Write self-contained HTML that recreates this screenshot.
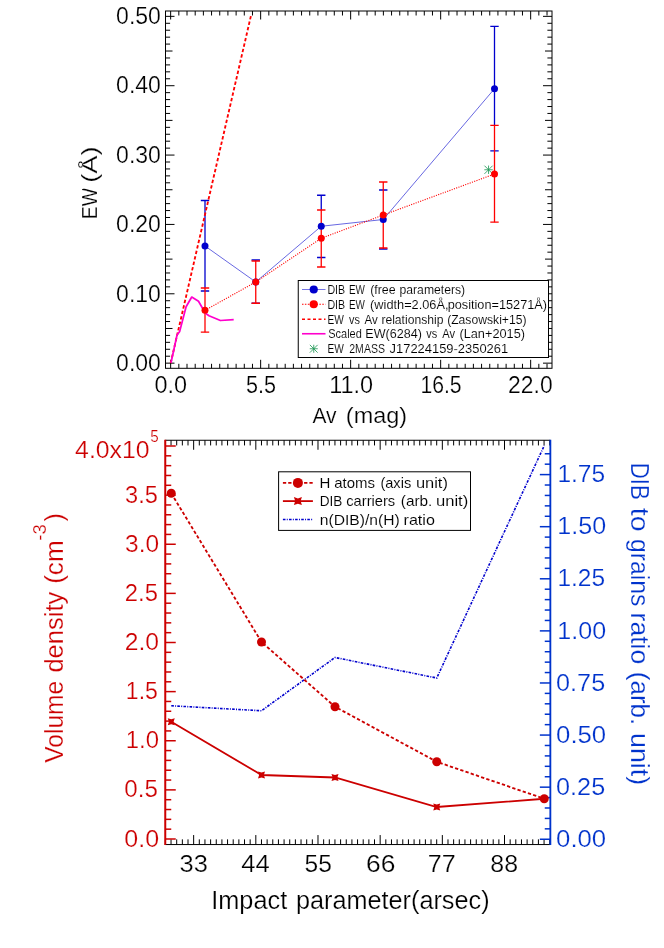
<!DOCTYPE html>
<html><head><meta charset="utf-8"><title>chart</title>
<style>html,body{margin:0;padding:0;background:#fff;}body{width:664px;height:948px;overflow:hidden;font-family:"Liberation Sans",sans-serif;}</style>
</head><body>
<svg width="664" height="948" viewBox="0 0 664 948" style="display:block;will-change:transform">
<g id="top">
<clipPath id="c1"><rect x="165.5" y="11.0" width="386.5" height="357.3"/></clipPath>
<rect x="165.5" y="11.0" width="386.5" height="357.3" fill="none" stroke="#000" stroke-width="1"/>
<line x1="170.65" y1="11.00" x2="170.65" y2="19.50" stroke="#000" stroke-width="1" />
<line x1="170.65" y1="368.30" x2="170.65" y2="359.80" stroke="#000" stroke-width="1" />
<line x1="178.83" y1="11.00" x2="178.83" y2="15.50" stroke="#000" stroke-width="1" />
<line x1="178.83" y1="368.30" x2="178.83" y2="363.80" stroke="#000" stroke-width="1" />
<line x1="187.01" y1="11.00" x2="187.01" y2="15.50" stroke="#000" stroke-width="1" />
<line x1="187.01" y1="368.30" x2="187.01" y2="363.80" stroke="#000" stroke-width="1" />
<line x1="195.20" y1="11.00" x2="195.20" y2="15.50" stroke="#000" stroke-width="1" />
<line x1="195.20" y1="368.30" x2="195.20" y2="363.80" stroke="#000" stroke-width="1" />
<line x1="203.38" y1="11.00" x2="203.38" y2="15.50" stroke="#000" stroke-width="1" />
<line x1="203.38" y1="368.30" x2="203.38" y2="363.80" stroke="#000" stroke-width="1" />
<line x1="211.56" y1="11.00" x2="211.56" y2="15.50" stroke="#000" stroke-width="1" />
<line x1="211.56" y1="368.30" x2="211.56" y2="363.80" stroke="#000" stroke-width="1" />
<line x1="219.74" y1="11.00" x2="219.74" y2="15.50" stroke="#000" stroke-width="1" />
<line x1="219.74" y1="368.30" x2="219.74" y2="363.80" stroke="#000" stroke-width="1" />
<line x1="227.92" y1="11.00" x2="227.92" y2="15.50" stroke="#000" stroke-width="1" />
<line x1="227.92" y1="368.30" x2="227.92" y2="363.80" stroke="#000" stroke-width="1" />
<line x1="236.11" y1="11.00" x2="236.11" y2="15.50" stroke="#000" stroke-width="1" />
<line x1="236.11" y1="368.30" x2="236.11" y2="363.80" stroke="#000" stroke-width="1" />
<line x1="244.29" y1="11.00" x2="244.29" y2="15.50" stroke="#000" stroke-width="1" />
<line x1="244.29" y1="368.30" x2="244.29" y2="363.80" stroke="#000" stroke-width="1" />
<line x1="252.47" y1="11.00" x2="252.47" y2="15.50" stroke="#000" stroke-width="1" />
<line x1="252.47" y1="368.30" x2="252.47" y2="363.80" stroke="#000" stroke-width="1" />
<line x1="260.65" y1="11.00" x2="260.65" y2="19.50" stroke="#000" stroke-width="1" />
<line x1="260.65" y1="368.30" x2="260.65" y2="359.80" stroke="#000" stroke-width="1" />
<line x1="268.83" y1="11.00" x2="268.83" y2="15.50" stroke="#000" stroke-width="1" />
<line x1="268.83" y1="368.30" x2="268.83" y2="363.80" stroke="#000" stroke-width="1" />
<line x1="277.02" y1="11.00" x2="277.02" y2="15.50" stroke="#000" stroke-width="1" />
<line x1="277.02" y1="368.30" x2="277.02" y2="363.80" stroke="#000" stroke-width="1" />
<line x1="285.20" y1="11.00" x2="285.20" y2="15.50" stroke="#000" stroke-width="1" />
<line x1="285.20" y1="368.30" x2="285.20" y2="363.80" stroke="#000" stroke-width="1" />
<line x1="293.38" y1="11.00" x2="293.38" y2="15.50" stroke="#000" stroke-width="1" />
<line x1="293.38" y1="368.30" x2="293.38" y2="363.80" stroke="#000" stroke-width="1" />
<line x1="301.56" y1="11.00" x2="301.56" y2="15.50" stroke="#000" stroke-width="1" />
<line x1="301.56" y1="368.30" x2="301.56" y2="363.80" stroke="#000" stroke-width="1" />
<line x1="309.74" y1="11.00" x2="309.74" y2="15.50" stroke="#000" stroke-width="1" />
<line x1="309.74" y1="368.30" x2="309.74" y2="363.80" stroke="#000" stroke-width="1" />
<line x1="317.93" y1="11.00" x2="317.93" y2="15.50" stroke="#000" stroke-width="1" />
<line x1="317.93" y1="368.30" x2="317.93" y2="363.80" stroke="#000" stroke-width="1" />
<line x1="326.11" y1="11.00" x2="326.11" y2="15.50" stroke="#000" stroke-width="1" />
<line x1="326.11" y1="368.30" x2="326.11" y2="363.80" stroke="#000" stroke-width="1" />
<line x1="334.29" y1="11.00" x2="334.29" y2="15.50" stroke="#000" stroke-width="1" />
<line x1="334.29" y1="368.30" x2="334.29" y2="363.80" stroke="#000" stroke-width="1" />
<line x1="342.47" y1="11.00" x2="342.47" y2="15.50" stroke="#000" stroke-width="1" />
<line x1="342.47" y1="368.30" x2="342.47" y2="363.80" stroke="#000" stroke-width="1" />
<line x1="350.65" y1="11.00" x2="350.65" y2="19.50" stroke="#000" stroke-width="1" />
<line x1="350.65" y1="368.30" x2="350.65" y2="359.80" stroke="#000" stroke-width="1" />
<line x1="358.84" y1="11.00" x2="358.84" y2="15.50" stroke="#000" stroke-width="1" />
<line x1="358.84" y1="368.30" x2="358.84" y2="363.80" stroke="#000" stroke-width="1" />
<line x1="367.02" y1="11.00" x2="367.02" y2="15.50" stroke="#000" stroke-width="1" />
<line x1="367.02" y1="368.30" x2="367.02" y2="363.80" stroke="#000" stroke-width="1" />
<line x1="375.20" y1="11.00" x2="375.20" y2="15.50" stroke="#000" stroke-width="1" />
<line x1="375.20" y1="368.30" x2="375.20" y2="363.80" stroke="#000" stroke-width="1" />
<line x1="383.38" y1="11.00" x2="383.38" y2="15.50" stroke="#000" stroke-width="1" />
<line x1="383.38" y1="368.30" x2="383.38" y2="363.80" stroke="#000" stroke-width="1" />
<line x1="391.56" y1="11.00" x2="391.56" y2="15.50" stroke="#000" stroke-width="1" />
<line x1="391.56" y1="368.30" x2="391.56" y2="363.80" stroke="#000" stroke-width="1" />
<line x1="399.75" y1="11.00" x2="399.75" y2="15.50" stroke="#000" stroke-width="1" />
<line x1="399.75" y1="368.30" x2="399.75" y2="363.80" stroke="#000" stroke-width="1" />
<line x1="407.93" y1="11.00" x2="407.93" y2="15.50" stroke="#000" stroke-width="1" />
<line x1="407.93" y1="368.30" x2="407.93" y2="363.80" stroke="#000" stroke-width="1" />
<line x1="416.11" y1="11.00" x2="416.11" y2="15.50" stroke="#000" stroke-width="1" />
<line x1="416.11" y1="368.30" x2="416.11" y2="363.80" stroke="#000" stroke-width="1" />
<line x1="424.29" y1="11.00" x2="424.29" y2="15.50" stroke="#000" stroke-width="1" />
<line x1="424.29" y1="368.30" x2="424.29" y2="363.80" stroke="#000" stroke-width="1" />
<line x1="432.47" y1="11.00" x2="432.47" y2="15.50" stroke="#000" stroke-width="1" />
<line x1="432.47" y1="368.30" x2="432.47" y2="363.80" stroke="#000" stroke-width="1" />
<line x1="440.66" y1="11.00" x2="440.66" y2="19.50" stroke="#000" stroke-width="1" />
<line x1="440.66" y1="368.30" x2="440.66" y2="359.80" stroke="#000" stroke-width="1" />
<line x1="448.84" y1="11.00" x2="448.84" y2="15.50" stroke="#000" stroke-width="1" />
<line x1="448.84" y1="368.30" x2="448.84" y2="363.80" stroke="#000" stroke-width="1" />
<line x1="457.02" y1="11.00" x2="457.02" y2="15.50" stroke="#000" stroke-width="1" />
<line x1="457.02" y1="368.30" x2="457.02" y2="363.80" stroke="#000" stroke-width="1" />
<line x1="465.20" y1="11.00" x2="465.20" y2="15.50" stroke="#000" stroke-width="1" />
<line x1="465.20" y1="368.30" x2="465.20" y2="363.80" stroke="#000" stroke-width="1" />
<line x1="473.38" y1="11.00" x2="473.38" y2="15.50" stroke="#000" stroke-width="1" />
<line x1="473.38" y1="368.30" x2="473.38" y2="363.80" stroke="#000" stroke-width="1" />
<line x1="481.57" y1="11.00" x2="481.57" y2="15.50" stroke="#000" stroke-width="1" />
<line x1="481.57" y1="368.30" x2="481.57" y2="363.80" stroke="#000" stroke-width="1" />
<line x1="489.75" y1="11.00" x2="489.75" y2="15.50" stroke="#000" stroke-width="1" />
<line x1="489.75" y1="368.30" x2="489.75" y2="363.80" stroke="#000" stroke-width="1" />
<line x1="497.93" y1="11.00" x2="497.93" y2="15.50" stroke="#000" stroke-width="1" />
<line x1="497.93" y1="368.30" x2="497.93" y2="363.80" stroke="#000" stroke-width="1" />
<line x1="506.11" y1="11.00" x2="506.11" y2="15.50" stroke="#000" stroke-width="1" />
<line x1="506.11" y1="368.30" x2="506.11" y2="363.80" stroke="#000" stroke-width="1" />
<line x1="514.29" y1="11.00" x2="514.29" y2="15.50" stroke="#000" stroke-width="1" />
<line x1="514.29" y1="368.30" x2="514.29" y2="363.80" stroke="#000" stroke-width="1" />
<line x1="522.48" y1="11.00" x2="522.48" y2="15.50" stroke="#000" stroke-width="1" />
<line x1="522.48" y1="368.30" x2="522.48" y2="363.80" stroke="#000" stroke-width="1" />
<line x1="530.66" y1="11.00" x2="530.66" y2="19.50" stroke="#000" stroke-width="1" />
<line x1="530.66" y1="368.30" x2="530.66" y2="359.80" stroke="#000" stroke-width="1" />
<line x1="538.84" y1="11.00" x2="538.84" y2="15.50" stroke="#000" stroke-width="1" />
<line x1="538.84" y1="368.30" x2="538.84" y2="363.80" stroke="#000" stroke-width="1" />
<line x1="547.02" y1="11.00" x2="547.02" y2="15.50" stroke="#000" stroke-width="1" />
<line x1="547.02" y1="368.30" x2="547.02" y2="363.80" stroke="#000" stroke-width="1" />
<line x1="165.50" y1="363.15" x2="174.50" y2="363.15" stroke="#000" stroke-width="1" />
<line x1="552.00" y1="363.15" x2="543.00" y2="363.15" stroke="#000" stroke-width="1" />
<line x1="165.50" y1="356.21" x2="170.10" y2="356.21" stroke="#000" stroke-width="1" />
<line x1="552.00" y1="356.21" x2="547.40" y2="356.21" stroke="#000" stroke-width="1" />
<line x1="165.50" y1="349.28" x2="170.10" y2="349.28" stroke="#000" stroke-width="1" />
<line x1="552.00" y1="349.28" x2="547.40" y2="349.28" stroke="#000" stroke-width="1" />
<line x1="165.50" y1="342.34" x2="170.10" y2="342.34" stroke="#000" stroke-width="1" />
<line x1="552.00" y1="342.34" x2="547.40" y2="342.34" stroke="#000" stroke-width="1" />
<line x1="165.50" y1="335.41" x2="170.10" y2="335.41" stroke="#000" stroke-width="1" />
<line x1="552.00" y1="335.41" x2="547.40" y2="335.41" stroke="#000" stroke-width="1" />
<line x1="165.50" y1="328.47" x2="172.50" y2="328.47" stroke="#000" stroke-width="1" />
<line x1="552.00" y1="328.47" x2="545.00" y2="328.47" stroke="#000" stroke-width="1" />
<line x1="165.50" y1="321.53" x2="170.10" y2="321.53" stroke="#000" stroke-width="1" />
<line x1="552.00" y1="321.53" x2="547.40" y2="321.53" stroke="#000" stroke-width="1" />
<line x1="165.50" y1="314.60" x2="170.10" y2="314.60" stroke="#000" stroke-width="1" />
<line x1="552.00" y1="314.60" x2="547.40" y2="314.60" stroke="#000" stroke-width="1" />
<line x1="165.50" y1="307.66" x2="170.10" y2="307.66" stroke="#000" stroke-width="1" />
<line x1="552.00" y1="307.66" x2="547.40" y2="307.66" stroke="#000" stroke-width="1" />
<line x1="165.50" y1="300.73" x2="170.10" y2="300.73" stroke="#000" stroke-width="1" />
<line x1="552.00" y1="300.73" x2="547.40" y2="300.73" stroke="#000" stroke-width="1" />
<line x1="165.50" y1="293.79" x2="174.50" y2="293.79" stroke="#000" stroke-width="1" />
<line x1="552.00" y1="293.79" x2="543.00" y2="293.79" stroke="#000" stroke-width="1" />
<line x1="165.50" y1="286.85" x2="170.10" y2="286.85" stroke="#000" stroke-width="1" />
<line x1="552.00" y1="286.85" x2="547.40" y2="286.85" stroke="#000" stroke-width="1" />
<line x1="165.50" y1="279.92" x2="170.10" y2="279.92" stroke="#000" stroke-width="1" />
<line x1="552.00" y1="279.92" x2="547.40" y2="279.92" stroke="#000" stroke-width="1" />
<line x1="165.50" y1="272.98" x2="170.10" y2="272.98" stroke="#000" stroke-width="1" />
<line x1="552.00" y1="272.98" x2="547.40" y2="272.98" stroke="#000" stroke-width="1" />
<line x1="165.50" y1="266.05" x2="170.10" y2="266.05" stroke="#000" stroke-width="1" />
<line x1="552.00" y1="266.05" x2="547.40" y2="266.05" stroke="#000" stroke-width="1" />
<line x1="165.50" y1="259.11" x2="172.50" y2="259.11" stroke="#000" stroke-width="1" />
<line x1="552.00" y1="259.11" x2="545.00" y2="259.11" stroke="#000" stroke-width="1" />
<line x1="165.50" y1="252.17" x2="170.10" y2="252.17" stroke="#000" stroke-width="1" />
<line x1="552.00" y1="252.17" x2="547.40" y2="252.17" stroke="#000" stroke-width="1" />
<line x1="165.50" y1="245.24" x2="170.10" y2="245.24" stroke="#000" stroke-width="1" />
<line x1="552.00" y1="245.24" x2="547.40" y2="245.24" stroke="#000" stroke-width="1" />
<line x1="165.50" y1="238.30" x2="170.10" y2="238.30" stroke="#000" stroke-width="1" />
<line x1="552.00" y1="238.30" x2="547.40" y2="238.30" stroke="#000" stroke-width="1" />
<line x1="165.50" y1="231.37" x2="170.10" y2="231.37" stroke="#000" stroke-width="1" />
<line x1="552.00" y1="231.37" x2="547.40" y2="231.37" stroke="#000" stroke-width="1" />
<line x1="165.50" y1="224.43" x2="174.50" y2="224.43" stroke="#000" stroke-width="1" />
<line x1="552.00" y1="224.43" x2="543.00" y2="224.43" stroke="#000" stroke-width="1" />
<line x1="165.50" y1="217.49" x2="170.10" y2="217.49" stroke="#000" stroke-width="1" />
<line x1="552.00" y1="217.49" x2="547.40" y2="217.49" stroke="#000" stroke-width="1" />
<line x1="165.50" y1="210.56" x2="170.10" y2="210.56" stroke="#000" stroke-width="1" />
<line x1="552.00" y1="210.56" x2="547.40" y2="210.56" stroke="#000" stroke-width="1" />
<line x1="165.50" y1="203.62" x2="170.10" y2="203.62" stroke="#000" stroke-width="1" />
<line x1="552.00" y1="203.62" x2="547.40" y2="203.62" stroke="#000" stroke-width="1" />
<line x1="165.50" y1="196.69" x2="170.10" y2="196.69" stroke="#000" stroke-width="1" />
<line x1="552.00" y1="196.69" x2="547.40" y2="196.69" stroke="#000" stroke-width="1" />
<line x1="165.50" y1="189.75" x2="172.50" y2="189.75" stroke="#000" stroke-width="1" />
<line x1="552.00" y1="189.75" x2="545.00" y2="189.75" stroke="#000" stroke-width="1" />
<line x1="165.50" y1="182.81" x2="170.10" y2="182.81" stroke="#000" stroke-width="1" />
<line x1="552.00" y1="182.81" x2="547.40" y2="182.81" stroke="#000" stroke-width="1" />
<line x1="165.50" y1="175.88" x2="170.10" y2="175.88" stroke="#000" stroke-width="1" />
<line x1="552.00" y1="175.88" x2="547.40" y2="175.88" stroke="#000" stroke-width="1" />
<line x1="165.50" y1="168.94" x2="170.10" y2="168.94" stroke="#000" stroke-width="1" />
<line x1="552.00" y1="168.94" x2="547.40" y2="168.94" stroke="#000" stroke-width="1" />
<line x1="165.50" y1="162.01" x2="170.10" y2="162.01" stroke="#000" stroke-width="1" />
<line x1="552.00" y1="162.01" x2="547.40" y2="162.01" stroke="#000" stroke-width="1" />
<line x1="165.50" y1="155.07" x2="174.50" y2="155.07" stroke="#000" stroke-width="1" />
<line x1="552.00" y1="155.07" x2="543.00" y2="155.07" stroke="#000" stroke-width="1" />
<line x1="165.50" y1="148.13" x2="170.10" y2="148.13" stroke="#000" stroke-width="1" />
<line x1="552.00" y1="148.13" x2="547.40" y2="148.13" stroke="#000" stroke-width="1" />
<line x1="165.50" y1="141.20" x2="170.10" y2="141.20" stroke="#000" stroke-width="1" />
<line x1="552.00" y1="141.20" x2="547.40" y2="141.20" stroke="#000" stroke-width="1" />
<line x1="165.50" y1="134.26" x2="170.10" y2="134.26" stroke="#000" stroke-width="1" />
<line x1="552.00" y1="134.26" x2="547.40" y2="134.26" stroke="#000" stroke-width="1" />
<line x1="165.50" y1="127.33" x2="170.10" y2="127.33" stroke="#000" stroke-width="1" />
<line x1="552.00" y1="127.33" x2="547.40" y2="127.33" stroke="#000" stroke-width="1" />
<line x1="165.50" y1="120.39" x2="172.50" y2="120.39" stroke="#000" stroke-width="1" />
<line x1="552.00" y1="120.39" x2="545.00" y2="120.39" stroke="#000" stroke-width="1" />
<line x1="165.50" y1="113.45" x2="170.10" y2="113.45" stroke="#000" stroke-width="1" />
<line x1="552.00" y1="113.45" x2="547.40" y2="113.45" stroke="#000" stroke-width="1" />
<line x1="165.50" y1="106.52" x2="170.10" y2="106.52" stroke="#000" stroke-width="1" />
<line x1="552.00" y1="106.52" x2="547.40" y2="106.52" stroke="#000" stroke-width="1" />
<line x1="165.50" y1="99.58" x2="170.10" y2="99.58" stroke="#000" stroke-width="1" />
<line x1="552.00" y1="99.58" x2="547.40" y2="99.58" stroke="#000" stroke-width="1" />
<line x1="165.50" y1="92.65" x2="170.10" y2="92.65" stroke="#000" stroke-width="1" />
<line x1="552.00" y1="92.65" x2="547.40" y2="92.65" stroke="#000" stroke-width="1" />
<line x1="165.50" y1="85.71" x2="174.50" y2="85.71" stroke="#000" stroke-width="1" />
<line x1="552.00" y1="85.71" x2="543.00" y2="85.71" stroke="#000" stroke-width="1" />
<line x1="165.50" y1="78.77" x2="170.10" y2="78.77" stroke="#000" stroke-width="1" />
<line x1="552.00" y1="78.77" x2="547.40" y2="78.77" stroke="#000" stroke-width="1" />
<line x1="165.50" y1="71.84" x2="170.10" y2="71.84" stroke="#000" stroke-width="1" />
<line x1="552.00" y1="71.84" x2="547.40" y2="71.84" stroke="#000" stroke-width="1" />
<line x1="165.50" y1="64.90" x2="170.10" y2="64.90" stroke="#000" stroke-width="1" />
<line x1="552.00" y1="64.90" x2="547.40" y2="64.90" stroke="#000" stroke-width="1" />
<line x1="165.50" y1="57.97" x2="170.10" y2="57.97" stroke="#000" stroke-width="1" />
<line x1="552.00" y1="57.97" x2="547.40" y2="57.97" stroke="#000" stroke-width="1" />
<line x1="165.50" y1="51.03" x2="172.50" y2="51.03" stroke="#000" stroke-width="1" />
<line x1="552.00" y1="51.03" x2="545.00" y2="51.03" stroke="#000" stroke-width="1" />
<line x1="165.50" y1="44.09" x2="170.10" y2="44.09" stroke="#000" stroke-width="1" />
<line x1="552.00" y1="44.09" x2="547.40" y2="44.09" stroke="#000" stroke-width="1" />
<line x1="165.50" y1="37.16" x2="170.10" y2="37.16" stroke="#000" stroke-width="1" />
<line x1="552.00" y1="37.16" x2="547.40" y2="37.16" stroke="#000" stroke-width="1" />
<line x1="165.50" y1="30.22" x2="170.10" y2="30.22" stroke="#000" stroke-width="1" />
<line x1="552.00" y1="30.22" x2="547.40" y2="30.22" stroke="#000" stroke-width="1" />
<line x1="165.50" y1="23.29" x2="170.10" y2="23.29" stroke="#000" stroke-width="1" />
<line x1="552.00" y1="23.29" x2="547.40" y2="23.29" stroke="#000" stroke-width="1" />
<line x1="165.50" y1="16.35" x2="174.50" y2="16.35" stroke="#000" stroke-width="1" />
<line x1="552.00" y1="16.35" x2="543.00" y2="16.35" stroke="#000" stroke-width="1" />
<g clip-path="url(#c1)">
<line x1="205.00" y1="288.00" x2="205.00" y2="200.50" stroke="#0000cd" stroke-width="1.3" />
<line x1="200.80" y1="291.00" x2="209.20" y2="291.00" stroke="#0000cd" stroke-width="1.3" />
<line x1="200.80" y1="200.50" x2="209.20" y2="200.50" stroke="#0000cd" stroke-width="1.3" />
<line x1="255.75" y1="261.00" x2="255.75" y2="260.00" stroke="#0000cd" stroke-width="1.3" />
<line x1="251.55" y1="303.25" x2="259.95" y2="303.25" stroke="#0000cd" stroke-width="1.3" />
<line x1="251.55" y1="260.00" x2="259.95" y2="260.00" stroke="#0000cd" stroke-width="1.3" />
<line x1="321.25" y1="210.00" x2="321.25" y2="195.25" stroke="#0000cd" stroke-width="1.3" />
<line x1="317.05" y1="257.50" x2="325.45" y2="257.50" stroke="#0000cd" stroke-width="1.3" />
<line x1="317.05" y1="195.25" x2="325.45" y2="195.25" stroke="#0000cd" stroke-width="1.3" />
<line x1="383.25" y1="249.00" x2="383.25" y2="248.00" stroke="#0000cd" stroke-width="1.3" />
<line x1="379.05" y1="249.00" x2="387.45" y2="249.00" stroke="#0000cd" stroke-width="1.3" />
<line x1="379.05" y1="190.00" x2="387.45" y2="190.00" stroke="#0000cd" stroke-width="1.3" />
<line x1="494.50" y1="125.40" x2="494.50" y2="26.40" stroke="#0000cd" stroke-width="1.3" />
<line x1="490.30" y1="150.90" x2="498.70" y2="150.90" stroke="#0000cd" stroke-width="1.3" />
<line x1="490.30" y1="26.40" x2="498.70" y2="26.40" stroke="#0000cd" stroke-width="1.3" />
<line x1="205.00" y1="332.20" x2="205.00" y2="288.00" stroke="#ff0000" stroke-width="1.3" />
<line x1="200.80" y1="332.20" x2="209.20" y2="332.20" stroke="#ff0000" stroke-width="1.3" />
<line x1="200.80" y1="288.00" x2="209.20" y2="288.00" stroke="#ff0000" stroke-width="1.3" />
<line x1="255.75" y1="303.25" x2="255.75" y2="261.00" stroke="#ff0000" stroke-width="1.3" />
<line x1="251.55" y1="303.25" x2="259.95" y2="303.25" stroke="#ff0000" stroke-width="1.3" />
<line x1="251.55" y1="261.00" x2="259.95" y2="261.00" stroke="#ff0000" stroke-width="1.3" />
<line x1="321.25" y1="267.00" x2="321.25" y2="210.00" stroke="#ff0000" stroke-width="1.3" />
<line x1="317.05" y1="267.00" x2="325.45" y2="267.00" stroke="#ff0000" stroke-width="1.3" />
<line x1="317.05" y1="210.00" x2="325.45" y2="210.00" stroke="#ff0000" stroke-width="1.3" />
<line x1="383.25" y1="248.00" x2="383.25" y2="182.00" stroke="#ff0000" stroke-width="1.3" />
<line x1="379.05" y1="248.00" x2="387.45" y2="248.00" stroke="#ff0000" stroke-width="1.3" />
<line x1="379.05" y1="182.00" x2="387.45" y2="182.00" stroke="#ff0000" stroke-width="1.3" />
<line x1="494.50" y1="222.20" x2="494.50" y2="125.40" stroke="#ff0000" stroke-width="1.3" />
<line x1="490.30" y1="222.20" x2="498.70" y2="222.20" stroke="#ff0000" stroke-width="1.3" />
<line x1="490.30" y1="125.40" x2="498.70" y2="125.40" stroke="#ff0000" stroke-width="1.3" />
<line x1="170.65" y1="363.15" x2="250.90" y2="16.00" stroke="#ff0000" stroke-width="1.85" stroke-dasharray="3.4 2.2"/>
<polyline fill="none" stroke="#ff00cc" stroke-width="1.75" stroke-linejoin="round" points="171.0,362.7 177.05,335.0 179.7,331.4 186.1,306.7 191.75,297.05 198.5,301.3 205.4,313.3 209.0,315.7 220.4,320.5 233.7,319.6"/>
<polyline fill="none" stroke="#0000cd" stroke-width="0.6" points="205.00,246.00 255.75,282.00 321.25,226.25 383.25,219.50 494.50,88.70"/>
<circle cx="205.00" cy="246.00" r="3.5" fill="#0000cd"/>
<circle cx="255.75" cy="282.00" r="3.5" fill="#0000cd"/>
<circle cx="321.25" cy="226.25" r="3.5" fill="#0000cd"/>
<circle cx="383.25" cy="219.50" r="3.5" fill="#0000cd"/>
<circle cx="494.50" cy="88.70" r="3.5" fill="#0000cd"/>
<line x1="484.35" y1="169.76" x2="492.75" y2="169.76" stroke="#249a58" stroke-width="0.85" />
<line x1="484.45" y1="165.66" x2="492.65" y2="173.86" stroke="#249a58" stroke-width="0.85" />
<line x1="488.55" y1="165.56" x2="488.55" y2="173.96" stroke="#249a58" stroke-width="0.85" />
<line x1="492.65" y1="165.66" x2="484.45" y2="173.86" stroke="#249a58" stroke-width="0.85" />
<polyline fill="none" stroke="#ff0000" stroke-width="1.1" stroke-dasharray="1.1 1.3" points="205.00,310.30 255.75,282.00 321.25,238.25 383.25,215.00 494.50,174.00"/>
<circle cx="205.00" cy="310.30" r="3.5" fill="#ff0000"/>
<circle cx="255.75" cy="282.00" r="3.5" fill="#ff0000"/>
<circle cx="321.25" cy="238.25" r="3.5" fill="#ff0000"/>
<circle cx="383.25" cy="215.00" r="3.5" fill="#ff0000"/>
<circle cx="494.50" cy="174.00" r="3.5" fill="#ff0000"/>
</g>
<g font-family="Liberation Sans, sans-serif">
<text x="116.10" y="370.90" font-size="23" fill="#000" stroke="#fff" stroke-width="0.22" text-anchor="start" textLength="44.80" lengthAdjust="spacingAndGlyphs" >0.00</text>
<text x="116.10" y="301.54" font-size="23" fill="#000" stroke="#fff" stroke-width="0.22" text-anchor="start" textLength="44.80" lengthAdjust="spacingAndGlyphs" >0.10</text>
<text x="116.10" y="232.18" font-size="23" fill="#000" stroke="#fff" stroke-width="0.22" text-anchor="start" textLength="44.80" lengthAdjust="spacingAndGlyphs" >0.20</text>
<text x="116.10" y="162.82" font-size="23" fill="#000" stroke="#fff" stroke-width="0.22" text-anchor="start" textLength="44.80" lengthAdjust="spacingAndGlyphs" >0.30</text>
<text x="116.10" y="93.46" font-size="23" fill="#000" stroke="#fff" stroke-width="0.22" text-anchor="start" textLength="44.80" lengthAdjust="spacingAndGlyphs" >0.40</text>
<text x="116.10" y="24.10" font-size="23" fill="#000" stroke="#fff" stroke-width="0.22" text-anchor="start" textLength="44.80" lengthAdjust="spacingAndGlyphs" >0.50</text>
<text x="154.58" y="393.40" font-size="23" fill="#000" stroke="#fff" stroke-width="0.22" text-anchor="start" textLength="32.58" lengthAdjust="spacingAndGlyphs" >0.0</text>
<text x="245.89" y="393.40" font-size="23" fill="#000" stroke="#fff" stroke-width="0.22" text-anchor="start" textLength="30.02" lengthAdjust="spacingAndGlyphs" >5.5</text>
<text x="329.18" y="393.40" font-size="23" fill="#000" stroke="#fff" stroke-width="0.22" text-anchor="start" textLength="43.90" lengthAdjust="spacingAndGlyphs" >11.0</text>
<text x="420.39" y="393.40" font-size="23" fill="#000" stroke="#fff" stroke-width="0.22" text-anchor="start" textLength="41.25" lengthAdjust="spacingAndGlyphs" >16.5</text>
<text x="508.10" y="393.40" font-size="23" fill="#000" stroke="#fff" stroke-width="0.22" text-anchor="start" textLength="44.55" lengthAdjust="spacingAndGlyphs" >22.0</text>
<text x="312.46" y="422.50" font-size="22.6" fill="#000" stroke="#fff" stroke-width="0.22" text-anchor="start" textLength="24.11" lengthAdjust="spacingAndGlyphs" >Av</text>
<text x="345.85" y="422.50" font-size="22.6" fill="#000" stroke="#fff" stroke-width="0.22" text-anchor="start" textLength="61.21" lengthAdjust="spacingAndGlyphs" >(mag)</text>
<text transform="translate(96.90,219.19) rotate(-90)" font-size="22.8" fill="#000" stroke="#fff" stroke-width="0.22" textLength="31.26" lengthAdjust="spacingAndGlyphs">EW</text>
<text transform="translate(96.90,182.75) rotate(-90)" font-size="22.8" fill="#000" stroke="#fff" stroke-width="0.22" textLength="36.44" lengthAdjust="spacingAndGlyphs">(&#197;)</text>
<rect x="298.25" y="280.5" width="250.25" height="77.0" fill="#fff" stroke="#000" stroke-width="1"/>
<line x1="302.00" y1="289.50" x2="325.50" y2="289.50" stroke="#0000cd" stroke-width="0.55" />
<circle cx="313.75" cy="289.5" r="4.1" fill="#0000cd"/>
<line x1="302.00" y1="304.25" x2="325.50" y2="304.25" stroke="#ff0000" stroke-width="1" stroke-dasharray="1.5 1.4"/>
<circle cx="313.75" cy="304.25" r="4.1" fill="#ff0000"/>
<line x1="302.00" y1="319.25" x2="325.50" y2="319.25" stroke="#ff0000" stroke-width="1.65" stroke-dasharray="3 2.5"/>
<line x1="302.00" y1="333.75" x2="325.50" y2="333.75" stroke="#ff00cc" stroke-width="1.6" />
<line x1="309.75" y1="348.75" x2="317.75" y2="348.75" stroke="#249a58" stroke-width="0.85" />
<line x1="309.85" y1="344.85" x2="317.65" y2="352.65" stroke="#249a58" stroke-width="0.85" />
<line x1="313.75" y1="344.75" x2="313.75" y2="352.75" stroke="#249a58" stroke-width="0.85" />
<line x1="317.65" y1="344.85" x2="309.85" y2="352.65" stroke="#249a58" stroke-width="0.85" />
<text x="327.43" y="293.80" font-size="12.6" fill="#000" stroke="#fff" stroke-width="0.1" text-anchor="start" textLength="17.73" lengthAdjust="spacingAndGlyphs" >DIB</text>
<text x="348.99" y="293.80" font-size="12.6" fill="#000" stroke="#fff" stroke-width="0.1" text-anchor="start" textLength="15.95" lengthAdjust="spacingAndGlyphs" >EW</text>
<text x="370.13" y="293.80" font-size="12.6" fill="#000" stroke="#fff" stroke-width="0.1" text-anchor="start" textLength="25.42" lengthAdjust="spacingAndGlyphs" >(free</text>
<text x="399.52" y="293.80" font-size="12.6" fill="#000" stroke="#fff" stroke-width="0.1" text-anchor="start" textLength="65.64" lengthAdjust="spacingAndGlyphs" >parameters)</text>
<text x="327.43" y="308.55" font-size="12.6" fill="#000" stroke="#fff" stroke-width="0.1" text-anchor="start" textLength="17.73" lengthAdjust="spacingAndGlyphs" >DIB</text>
<text x="348.99" y="308.55" font-size="12.6" fill="#000" stroke="#fff" stroke-width="0.1" text-anchor="start" textLength="15.95" lengthAdjust="spacingAndGlyphs" >EW</text>
<text x="370.11" y="308.55" font-size="12.6" fill="#000" stroke="#fff" stroke-width="0.1" text-anchor="start" textLength="78.34" lengthAdjust="spacingAndGlyphs" >(width=2.06&#197;,</text>
<text x="447.68" y="308.55" font-size="12.6" fill="#000" stroke="#fff" stroke-width="0.1" text-anchor="start" textLength="99.36" lengthAdjust="spacingAndGlyphs" >position=15271&#197;)</text>
<text x="327.47" y="323.55" font-size="12.6" fill="#000" stroke="#fff" stroke-width="0.1" text-anchor="start" textLength="16.37" lengthAdjust="spacingAndGlyphs" >EW</text>
<text x="349.06" y="323.55" font-size="12.6" fill="#000" stroke="#fff" stroke-width="0.1" text-anchor="start" textLength="10.93" lengthAdjust="spacingAndGlyphs" >vs</text>
<text x="364.48" y="323.55" font-size="12.6" fill="#000" stroke="#fff" stroke-width="0.1" text-anchor="start" textLength="13.26" lengthAdjust="spacingAndGlyphs" >Av</text>
<text x="381.39" y="323.55" font-size="12.6" fill="#000" stroke="#fff" stroke-width="0.1" text-anchor="start" textLength="62.01" lengthAdjust="spacingAndGlyphs" >relationship</text>
<text x="447.15" y="323.55" font-size="12.6" fill="#000" stroke="#fff" stroke-width="0.1" text-anchor="start" textLength="79.36" lengthAdjust="spacingAndGlyphs" >(Zasowski+15)</text>
<text x="328.30" y="338.05" font-size="12.6" fill="#000" stroke="#fff" stroke-width="0.1" text-anchor="start" textLength="33.50" lengthAdjust="spacingAndGlyphs" >Scaled</text>
<text x="365.37" y="338.05" font-size="12.6" fill="#000" stroke="#fff" stroke-width="0.1" text-anchor="start" textLength="56.61" lengthAdjust="spacingAndGlyphs" >EW(6284)</text>
<text x="426.36" y="338.05" font-size="12.6" fill="#000" stroke="#fff" stroke-width="0.1" text-anchor="start" textLength="10.93" lengthAdjust="spacingAndGlyphs" >vs</text>
<text x="442.18" y="338.05" font-size="12.6" fill="#000" stroke="#fff" stroke-width="0.1" text-anchor="start" textLength="12.86" lengthAdjust="spacingAndGlyphs" >Av</text>
<text x="459.41" y="338.05" font-size="12.6" fill="#000" stroke="#fff" stroke-width="0.1" text-anchor="start" textLength="65.63" lengthAdjust="spacingAndGlyphs" >(Lan+2015)</text>
<text x="327.47" y="353.05" font-size="12.6" fill="#000" stroke="#fff" stroke-width="0.1" text-anchor="start" textLength="16.37" lengthAdjust="spacingAndGlyphs" >EW</text>
<text x="349.27" y="353.05" font-size="12.6" fill="#000" stroke="#fff" stroke-width="0.1" text-anchor="start" textLength="35.71" lengthAdjust="spacingAndGlyphs" >2MASS</text>
<text x="389.60" y="353.05" font-size="12.6" fill="#000" stroke="#fff" stroke-width="0.1" text-anchor="start" textLength="118.53" lengthAdjust="spacingAndGlyphs" >J17224159-2350261</text>
</g>
</g>
<g id="bottom">
<clipPath id="c2"><rect x="165.25" y="440.25" width="385.1" height="404.29999999999995"/></clipPath>
<line x1="165.25" y1="440.25" x2="550.35" y2="440.25" stroke="#000" stroke-width="1" />
<line x1="165.25" y1="844.55" x2="550.35" y2="844.55" stroke="#000" stroke-width="1" />
<line x1="165.39" y1="440.25" x2="165.39" y2="445.45" stroke="#000" stroke-width="1" />
<line x1="165.39" y1="844.55" x2="165.39" y2="839.35" stroke="#000" stroke-width="1" />
<line x1="171.04" y1="440.25" x2="171.04" y2="445.45" stroke="#000" stroke-width="1" />
<line x1="171.04" y1="844.55" x2="171.04" y2="839.35" stroke="#000" stroke-width="1" />
<line x1="176.69" y1="440.25" x2="176.69" y2="445.45" stroke="#000" stroke-width="1" />
<line x1="176.69" y1="844.55" x2="176.69" y2="839.35" stroke="#000" stroke-width="1" />
<line x1="182.35" y1="440.25" x2="182.35" y2="445.45" stroke="#000" stroke-width="1" />
<line x1="182.35" y1="844.55" x2="182.35" y2="839.35" stroke="#000" stroke-width="1" />
<line x1="188.00" y1="440.25" x2="188.00" y2="445.45" stroke="#000" stroke-width="1" />
<line x1="188.00" y1="844.55" x2="188.00" y2="839.35" stroke="#000" stroke-width="1" />
<line x1="193.65" y1="440.25" x2="193.65" y2="449.75" stroke="#000" stroke-width="1" />
<line x1="193.65" y1="844.55" x2="193.65" y2="835.05" stroke="#000" stroke-width="1" />
<line x1="199.30" y1="440.25" x2="199.30" y2="445.45" stroke="#000" stroke-width="1" />
<line x1="199.30" y1="844.55" x2="199.30" y2="839.35" stroke="#000" stroke-width="1" />
<line x1="204.95" y1="440.25" x2="204.95" y2="445.45" stroke="#000" stroke-width="1" />
<line x1="204.95" y1="844.55" x2="204.95" y2="839.35" stroke="#000" stroke-width="1" />
<line x1="210.61" y1="440.25" x2="210.61" y2="445.45" stroke="#000" stroke-width="1" />
<line x1="210.61" y1="844.55" x2="210.61" y2="839.35" stroke="#000" stroke-width="1" />
<line x1="216.26" y1="440.25" x2="216.26" y2="445.45" stroke="#000" stroke-width="1" />
<line x1="216.26" y1="844.55" x2="216.26" y2="839.35" stroke="#000" stroke-width="1" />
<line x1="221.91" y1="440.25" x2="221.91" y2="445.45" stroke="#000" stroke-width="1" />
<line x1="221.91" y1="844.55" x2="221.91" y2="839.35" stroke="#000" stroke-width="1" />
<line x1="227.56" y1="440.25" x2="227.56" y2="445.45" stroke="#000" stroke-width="1" />
<line x1="227.56" y1="844.55" x2="227.56" y2="839.35" stroke="#000" stroke-width="1" />
<line x1="233.21" y1="440.25" x2="233.21" y2="445.45" stroke="#000" stroke-width="1" />
<line x1="233.21" y1="844.55" x2="233.21" y2="839.35" stroke="#000" stroke-width="1" />
<line x1="238.87" y1="440.25" x2="238.87" y2="445.45" stroke="#000" stroke-width="1" />
<line x1="238.87" y1="844.55" x2="238.87" y2="839.35" stroke="#000" stroke-width="1" />
<line x1="244.52" y1="440.25" x2="244.52" y2="445.45" stroke="#000" stroke-width="1" />
<line x1="244.52" y1="844.55" x2="244.52" y2="839.35" stroke="#000" stroke-width="1" />
<line x1="250.17" y1="440.25" x2="250.17" y2="445.45" stroke="#000" stroke-width="1" />
<line x1="250.17" y1="844.55" x2="250.17" y2="839.35" stroke="#000" stroke-width="1" />
<line x1="255.82" y1="440.25" x2="255.82" y2="449.75" stroke="#000" stroke-width="1" />
<line x1="255.82" y1="844.55" x2="255.82" y2="835.05" stroke="#000" stroke-width="1" />
<line x1="261.47" y1="440.25" x2="261.47" y2="445.45" stroke="#000" stroke-width="1" />
<line x1="261.47" y1="844.55" x2="261.47" y2="839.35" stroke="#000" stroke-width="1" />
<line x1="267.13" y1="440.25" x2="267.13" y2="445.45" stroke="#000" stroke-width="1" />
<line x1="267.13" y1="844.55" x2="267.13" y2="839.35" stroke="#000" stroke-width="1" />
<line x1="272.78" y1="440.25" x2="272.78" y2="445.45" stroke="#000" stroke-width="1" />
<line x1="272.78" y1="844.55" x2="272.78" y2="839.35" stroke="#000" stroke-width="1" />
<line x1="278.43" y1="440.25" x2="278.43" y2="445.45" stroke="#000" stroke-width="1" />
<line x1="278.43" y1="844.55" x2="278.43" y2="839.35" stroke="#000" stroke-width="1" />
<line x1="284.08" y1="440.25" x2="284.08" y2="445.45" stroke="#000" stroke-width="1" />
<line x1="284.08" y1="844.55" x2="284.08" y2="839.35" stroke="#000" stroke-width="1" />
<line x1="289.73" y1="440.25" x2="289.73" y2="445.45" stroke="#000" stroke-width="1" />
<line x1="289.73" y1="844.55" x2="289.73" y2="839.35" stroke="#000" stroke-width="1" />
<line x1="295.39" y1="440.25" x2="295.39" y2="445.45" stroke="#000" stroke-width="1" />
<line x1="295.39" y1="844.55" x2="295.39" y2="839.35" stroke="#000" stroke-width="1" />
<line x1="301.04" y1="440.25" x2="301.04" y2="445.45" stroke="#000" stroke-width="1" />
<line x1="301.04" y1="844.55" x2="301.04" y2="839.35" stroke="#000" stroke-width="1" />
<line x1="306.69" y1="440.25" x2="306.69" y2="445.45" stroke="#000" stroke-width="1" />
<line x1="306.69" y1="844.55" x2="306.69" y2="839.35" stroke="#000" stroke-width="1" />
<line x1="312.34" y1="440.25" x2="312.34" y2="445.45" stroke="#000" stroke-width="1" />
<line x1="312.34" y1="844.55" x2="312.34" y2="839.35" stroke="#000" stroke-width="1" />
<line x1="317.99" y1="440.25" x2="317.99" y2="449.75" stroke="#000" stroke-width="1" />
<line x1="317.99" y1="844.55" x2="317.99" y2="835.05" stroke="#000" stroke-width="1" />
<line x1="323.65" y1="440.25" x2="323.65" y2="445.45" stroke="#000" stroke-width="1" />
<line x1="323.65" y1="844.55" x2="323.65" y2="839.35" stroke="#000" stroke-width="1" />
<line x1="329.30" y1="440.25" x2="329.30" y2="445.45" stroke="#000" stroke-width="1" />
<line x1="329.30" y1="844.55" x2="329.30" y2="839.35" stroke="#000" stroke-width="1" />
<line x1="334.95" y1="440.25" x2="334.95" y2="445.45" stroke="#000" stroke-width="1" />
<line x1="334.95" y1="844.55" x2="334.95" y2="839.35" stroke="#000" stroke-width="1" />
<line x1="340.60" y1="440.25" x2="340.60" y2="445.45" stroke="#000" stroke-width="1" />
<line x1="340.60" y1="844.55" x2="340.60" y2="839.35" stroke="#000" stroke-width="1" />
<line x1="346.25" y1="440.25" x2="346.25" y2="445.45" stroke="#000" stroke-width="1" />
<line x1="346.25" y1="844.55" x2="346.25" y2="839.35" stroke="#000" stroke-width="1" />
<line x1="351.91" y1="440.25" x2="351.91" y2="445.45" stroke="#000" stroke-width="1" />
<line x1="351.91" y1="844.55" x2="351.91" y2="839.35" stroke="#000" stroke-width="1" />
<line x1="357.56" y1="440.25" x2="357.56" y2="445.45" stroke="#000" stroke-width="1" />
<line x1="357.56" y1="844.55" x2="357.56" y2="839.35" stroke="#000" stroke-width="1" />
<line x1="363.21" y1="440.25" x2="363.21" y2="445.45" stroke="#000" stroke-width="1" />
<line x1="363.21" y1="844.55" x2="363.21" y2="839.35" stroke="#000" stroke-width="1" />
<line x1="368.86" y1="440.25" x2="368.86" y2="445.45" stroke="#000" stroke-width="1" />
<line x1="368.86" y1="844.55" x2="368.86" y2="839.35" stroke="#000" stroke-width="1" />
<line x1="374.51" y1="440.25" x2="374.51" y2="445.45" stroke="#000" stroke-width="1" />
<line x1="374.51" y1="844.55" x2="374.51" y2="839.35" stroke="#000" stroke-width="1" />
<line x1="380.17" y1="440.25" x2="380.17" y2="449.75" stroke="#000" stroke-width="1" />
<line x1="380.17" y1="844.55" x2="380.17" y2="835.05" stroke="#000" stroke-width="1" />
<line x1="385.82" y1="440.25" x2="385.82" y2="445.45" stroke="#000" stroke-width="1" />
<line x1="385.82" y1="844.55" x2="385.82" y2="839.35" stroke="#000" stroke-width="1" />
<line x1="391.47" y1="440.25" x2="391.47" y2="445.45" stroke="#000" stroke-width="1" />
<line x1="391.47" y1="844.55" x2="391.47" y2="839.35" stroke="#000" stroke-width="1" />
<line x1="397.12" y1="440.25" x2="397.12" y2="445.45" stroke="#000" stroke-width="1" />
<line x1="397.12" y1="844.55" x2="397.12" y2="839.35" stroke="#000" stroke-width="1" />
<line x1="402.77" y1="440.25" x2="402.77" y2="445.45" stroke="#000" stroke-width="1" />
<line x1="402.77" y1="844.55" x2="402.77" y2="839.35" stroke="#000" stroke-width="1" />
<line x1="408.43" y1="440.25" x2="408.43" y2="445.45" stroke="#000" stroke-width="1" />
<line x1="408.43" y1="844.55" x2="408.43" y2="839.35" stroke="#000" stroke-width="1" />
<line x1="414.08" y1="440.25" x2="414.08" y2="445.45" stroke="#000" stroke-width="1" />
<line x1="414.08" y1="844.55" x2="414.08" y2="839.35" stroke="#000" stroke-width="1" />
<line x1="419.73" y1="440.25" x2="419.73" y2="445.45" stroke="#000" stroke-width="1" />
<line x1="419.73" y1="844.55" x2="419.73" y2="839.35" stroke="#000" stroke-width="1" />
<line x1="425.38" y1="440.25" x2="425.38" y2="445.45" stroke="#000" stroke-width="1" />
<line x1="425.38" y1="844.55" x2="425.38" y2="839.35" stroke="#000" stroke-width="1" />
<line x1="431.03" y1="440.25" x2="431.03" y2="445.45" stroke="#000" stroke-width="1" />
<line x1="431.03" y1="844.55" x2="431.03" y2="839.35" stroke="#000" stroke-width="1" />
<line x1="436.69" y1="440.25" x2="436.69" y2="445.45" stroke="#000" stroke-width="1" />
<line x1="436.69" y1="844.55" x2="436.69" y2="839.35" stroke="#000" stroke-width="1" />
<line x1="442.34" y1="440.25" x2="442.34" y2="449.75" stroke="#000" stroke-width="1" />
<line x1="442.34" y1="844.55" x2="442.34" y2="835.05" stroke="#000" stroke-width="1" />
<line x1="447.99" y1="440.25" x2="447.99" y2="445.45" stroke="#000" stroke-width="1" />
<line x1="447.99" y1="844.55" x2="447.99" y2="839.35" stroke="#000" stroke-width="1" />
<line x1="453.64" y1="440.25" x2="453.64" y2="445.45" stroke="#000" stroke-width="1" />
<line x1="453.64" y1="844.55" x2="453.64" y2="839.35" stroke="#000" stroke-width="1" />
<line x1="459.29" y1="440.25" x2="459.29" y2="445.45" stroke="#000" stroke-width="1" />
<line x1="459.29" y1="844.55" x2="459.29" y2="839.35" stroke="#000" stroke-width="1" />
<line x1="464.95" y1="440.25" x2="464.95" y2="445.45" stroke="#000" stroke-width="1" />
<line x1="464.95" y1="844.55" x2="464.95" y2="839.35" stroke="#000" stroke-width="1" />
<line x1="470.60" y1="440.25" x2="470.60" y2="445.45" stroke="#000" stroke-width="1" />
<line x1="470.60" y1="844.55" x2="470.60" y2="839.35" stroke="#000" stroke-width="1" />
<line x1="476.25" y1="440.25" x2="476.25" y2="445.45" stroke="#000" stroke-width="1" />
<line x1="476.25" y1="844.55" x2="476.25" y2="839.35" stroke="#000" stroke-width="1" />
<line x1="481.90" y1="440.25" x2="481.90" y2="445.45" stroke="#000" stroke-width="1" />
<line x1="481.90" y1="844.55" x2="481.90" y2="839.35" stroke="#000" stroke-width="1" />
<line x1="487.55" y1="440.25" x2="487.55" y2="445.45" stroke="#000" stroke-width="1" />
<line x1="487.55" y1="844.55" x2="487.55" y2="839.35" stroke="#000" stroke-width="1" />
<line x1="493.21" y1="440.25" x2="493.21" y2="445.45" stroke="#000" stroke-width="1" />
<line x1="493.21" y1="844.55" x2="493.21" y2="839.35" stroke="#000" stroke-width="1" />
<line x1="498.86" y1="440.25" x2="498.86" y2="445.45" stroke="#000" stroke-width="1" />
<line x1="498.86" y1="844.55" x2="498.86" y2="839.35" stroke="#000" stroke-width="1" />
<line x1="504.51" y1="440.25" x2="504.51" y2="449.75" stroke="#000" stroke-width="1" />
<line x1="504.51" y1="844.55" x2="504.51" y2="835.05" stroke="#000" stroke-width="1" />
<line x1="510.16" y1="440.25" x2="510.16" y2="445.45" stroke="#000" stroke-width="1" />
<line x1="510.16" y1="844.55" x2="510.16" y2="839.35" stroke="#000" stroke-width="1" />
<line x1="515.81" y1="440.25" x2="515.81" y2="445.45" stroke="#000" stroke-width="1" />
<line x1="515.81" y1="844.55" x2="515.81" y2="839.35" stroke="#000" stroke-width="1" />
<line x1="521.47" y1="440.25" x2="521.47" y2="445.45" stroke="#000" stroke-width="1" />
<line x1="521.47" y1="844.55" x2="521.47" y2="839.35" stroke="#000" stroke-width="1" />
<line x1="527.12" y1="440.25" x2="527.12" y2="445.45" stroke="#000" stroke-width="1" />
<line x1="527.12" y1="844.55" x2="527.12" y2="839.35" stroke="#000" stroke-width="1" />
<line x1="532.77" y1="440.25" x2="532.77" y2="445.45" stroke="#000" stroke-width="1" />
<line x1="532.77" y1="844.55" x2="532.77" y2="839.35" stroke="#000" stroke-width="1" />
<line x1="538.42" y1="440.25" x2="538.42" y2="445.45" stroke="#000" stroke-width="1" />
<line x1="538.42" y1="844.55" x2="538.42" y2="839.35" stroke="#000" stroke-width="1" />
<line x1="544.07" y1="440.25" x2="544.07" y2="445.45" stroke="#000" stroke-width="1" />
<line x1="544.07" y1="844.55" x2="544.07" y2="839.35" stroke="#000" stroke-width="1" />
<line x1="549.73" y1="440.25" x2="549.73" y2="445.45" stroke="#000" stroke-width="1" />
<line x1="549.73" y1="844.55" x2="549.73" y2="839.35" stroke="#000" stroke-width="1" />
<line x1="165.25" y1="439.75" x2="165.25" y2="845.05" stroke="#cc0000" stroke-width="2" />
<line x1="165.25" y1="839.00" x2="175.75" y2="839.00" stroke="#cc0000" stroke-width="1.5" />
<line x1="165.25" y1="829.17" x2="171.25" y2="829.17" stroke="#cc0000" stroke-width="1.5" />
<line x1="165.25" y1="819.35" x2="171.25" y2="819.35" stroke="#cc0000" stroke-width="1.5" />
<line x1="165.25" y1="809.52" x2="171.25" y2="809.52" stroke="#cc0000" stroke-width="1.5" />
<line x1="165.25" y1="799.70" x2="171.25" y2="799.70" stroke="#cc0000" stroke-width="1.5" />
<line x1="165.25" y1="789.88" x2="175.75" y2="789.88" stroke="#cc0000" stroke-width="1.5" />
<line x1="165.25" y1="780.05" x2="171.25" y2="780.05" stroke="#cc0000" stroke-width="1.5" />
<line x1="165.25" y1="770.23" x2="171.25" y2="770.23" stroke="#cc0000" stroke-width="1.5" />
<line x1="165.25" y1="760.40" x2="171.25" y2="760.40" stroke="#cc0000" stroke-width="1.5" />
<line x1="165.25" y1="750.58" x2="171.25" y2="750.58" stroke="#cc0000" stroke-width="1.5" />
<line x1="165.25" y1="740.75" x2="175.75" y2="740.75" stroke="#cc0000" stroke-width="1.5" />
<line x1="165.25" y1="730.92" x2="171.25" y2="730.92" stroke="#cc0000" stroke-width="1.5" />
<line x1="165.25" y1="721.10" x2="171.25" y2="721.10" stroke="#cc0000" stroke-width="1.5" />
<line x1="165.25" y1="711.27" x2="171.25" y2="711.27" stroke="#cc0000" stroke-width="1.5" />
<line x1="165.25" y1="701.45" x2="171.25" y2="701.45" stroke="#cc0000" stroke-width="1.5" />
<line x1="165.25" y1="691.62" x2="175.75" y2="691.62" stroke="#cc0000" stroke-width="1.5" />
<line x1="165.25" y1="681.80" x2="171.25" y2="681.80" stroke="#cc0000" stroke-width="1.5" />
<line x1="165.25" y1="671.98" x2="171.25" y2="671.98" stroke="#cc0000" stroke-width="1.5" />
<line x1="165.25" y1="662.15" x2="171.25" y2="662.15" stroke="#cc0000" stroke-width="1.5" />
<line x1="165.25" y1="652.33" x2="171.25" y2="652.33" stroke="#cc0000" stroke-width="1.5" />
<line x1="165.25" y1="642.50" x2="175.75" y2="642.50" stroke="#cc0000" stroke-width="1.5" />
<line x1="165.25" y1="632.67" x2="171.25" y2="632.67" stroke="#cc0000" stroke-width="1.5" />
<line x1="165.25" y1="622.85" x2="171.25" y2="622.85" stroke="#cc0000" stroke-width="1.5" />
<line x1="165.25" y1="613.02" x2="171.25" y2="613.02" stroke="#cc0000" stroke-width="1.5" />
<line x1="165.25" y1="603.20" x2="171.25" y2="603.20" stroke="#cc0000" stroke-width="1.5" />
<line x1="165.25" y1="593.38" x2="175.75" y2="593.38" stroke="#cc0000" stroke-width="1.5" />
<line x1="165.25" y1="583.55" x2="171.25" y2="583.55" stroke="#cc0000" stroke-width="1.5" />
<line x1="165.25" y1="573.72" x2="171.25" y2="573.72" stroke="#cc0000" stroke-width="1.5" />
<line x1="165.25" y1="563.90" x2="171.25" y2="563.90" stroke="#cc0000" stroke-width="1.5" />
<line x1="165.25" y1="554.08" x2="171.25" y2="554.08" stroke="#cc0000" stroke-width="1.5" />
<line x1="165.25" y1="544.25" x2="175.75" y2="544.25" stroke="#cc0000" stroke-width="1.5" />
<line x1="165.25" y1="534.42" x2="171.25" y2="534.42" stroke="#cc0000" stroke-width="1.5" />
<line x1="165.25" y1="524.60" x2="171.25" y2="524.60" stroke="#cc0000" stroke-width="1.5" />
<line x1="165.25" y1="514.77" x2="171.25" y2="514.77" stroke="#cc0000" stroke-width="1.5" />
<line x1="165.25" y1="504.95" x2="171.25" y2="504.95" stroke="#cc0000" stroke-width="1.5" />
<line x1="165.25" y1="495.12" x2="175.75" y2="495.12" stroke="#cc0000" stroke-width="1.5" />
<line x1="165.25" y1="485.30" x2="171.25" y2="485.30" stroke="#cc0000" stroke-width="1.5" />
<line x1="165.25" y1="475.47" x2="171.25" y2="475.47" stroke="#cc0000" stroke-width="1.5" />
<line x1="165.25" y1="465.65" x2="171.25" y2="465.65" stroke="#cc0000" stroke-width="1.5" />
<line x1="165.25" y1="455.82" x2="171.25" y2="455.82" stroke="#cc0000" stroke-width="1.5" />
<line x1="165.25" y1="446.00" x2="175.75" y2="446.00" stroke="#cc0000" stroke-width="1.5" />
<line x1="550.35" y1="439.75" x2="550.35" y2="845.05" stroke="#0033cc" stroke-width="1.85" />
<line x1="550.35" y1="839.25" x2="539.85" y2="839.25" stroke="#0033cc" stroke-width="1.5" />
<line x1="550.35" y1="828.83" x2="544.75" y2="828.83" stroke="#0033cc" stroke-width="1.5" />
<line x1="550.35" y1="818.41" x2="544.75" y2="818.41" stroke="#0033cc" stroke-width="1.5" />
<line x1="550.35" y1="807.99" x2="544.75" y2="807.99" stroke="#0033cc" stroke-width="1.5" />
<line x1="550.35" y1="797.58" x2="544.75" y2="797.58" stroke="#0033cc" stroke-width="1.5" />
<line x1="550.35" y1="787.16" x2="539.85" y2="787.16" stroke="#0033cc" stroke-width="1.5" />
<line x1="550.35" y1="776.74" x2="544.75" y2="776.74" stroke="#0033cc" stroke-width="1.5" />
<line x1="550.35" y1="766.32" x2="544.75" y2="766.32" stroke="#0033cc" stroke-width="1.5" />
<line x1="550.35" y1="755.90" x2="544.75" y2="755.90" stroke="#0033cc" stroke-width="1.5" />
<line x1="550.35" y1="745.48" x2="544.75" y2="745.48" stroke="#0033cc" stroke-width="1.5" />
<line x1="550.35" y1="735.07" x2="539.85" y2="735.07" stroke="#0033cc" stroke-width="1.5" />
<line x1="550.35" y1="724.65" x2="544.75" y2="724.65" stroke="#0033cc" stroke-width="1.5" />
<line x1="550.35" y1="714.23" x2="544.75" y2="714.23" stroke="#0033cc" stroke-width="1.5" />
<line x1="550.35" y1="703.81" x2="544.75" y2="703.81" stroke="#0033cc" stroke-width="1.5" />
<line x1="550.35" y1="693.39" x2="544.75" y2="693.39" stroke="#0033cc" stroke-width="1.5" />
<line x1="550.35" y1="682.97" x2="539.85" y2="682.97" stroke="#0033cc" stroke-width="1.5" />
<line x1="550.35" y1="672.55" x2="544.75" y2="672.55" stroke="#0033cc" stroke-width="1.5" />
<line x1="550.35" y1="662.14" x2="544.75" y2="662.14" stroke="#0033cc" stroke-width="1.5" />
<line x1="550.35" y1="651.72" x2="544.75" y2="651.72" stroke="#0033cc" stroke-width="1.5" />
<line x1="550.35" y1="641.30" x2="544.75" y2="641.30" stroke="#0033cc" stroke-width="1.5" />
<line x1="550.35" y1="630.88" x2="539.85" y2="630.88" stroke="#0033cc" stroke-width="1.5" />
<line x1="550.35" y1="620.46" x2="544.75" y2="620.46" stroke="#0033cc" stroke-width="1.5" />
<line x1="550.35" y1="610.04" x2="544.75" y2="610.04" stroke="#0033cc" stroke-width="1.5" />
<line x1="550.35" y1="599.62" x2="544.75" y2="599.62" stroke="#0033cc" stroke-width="1.5" />
<line x1="550.35" y1="589.21" x2="544.75" y2="589.21" stroke="#0033cc" stroke-width="1.5" />
<line x1="550.35" y1="578.79" x2="539.85" y2="578.79" stroke="#0033cc" stroke-width="1.5" />
<line x1="550.35" y1="568.37" x2="544.75" y2="568.37" stroke="#0033cc" stroke-width="1.5" />
<line x1="550.35" y1="557.95" x2="544.75" y2="557.95" stroke="#0033cc" stroke-width="1.5" />
<line x1="550.35" y1="547.53" x2="544.75" y2="547.53" stroke="#0033cc" stroke-width="1.5" />
<line x1="550.35" y1="537.11" x2="544.75" y2="537.11" stroke="#0033cc" stroke-width="1.5" />
<line x1="550.35" y1="526.69" x2="539.85" y2="526.69" stroke="#0033cc" stroke-width="1.5" />
<line x1="550.35" y1="516.28" x2="544.75" y2="516.28" stroke="#0033cc" stroke-width="1.5" />
<line x1="550.35" y1="505.86" x2="544.75" y2="505.86" stroke="#0033cc" stroke-width="1.5" />
<line x1="550.35" y1="495.44" x2="544.75" y2="495.44" stroke="#0033cc" stroke-width="1.5" />
<line x1="550.35" y1="485.02" x2="544.75" y2="485.02" stroke="#0033cc" stroke-width="1.5" />
<line x1="550.35" y1="474.60" x2="539.85" y2="474.60" stroke="#0033cc" stroke-width="1.5" />
<line x1="550.35" y1="464.18" x2="544.75" y2="464.18" stroke="#0033cc" stroke-width="1.5" />
<line x1="550.35" y1="453.77" x2="544.75" y2="453.77" stroke="#0033cc" stroke-width="1.5" />
<polyline fill="none" stroke="#0000cd" stroke-width="1.6" stroke-dasharray="2.6 1.25 1.0 1.25" points="171.25,705.75 261.5,710.75 335.0,657.5 436.75,678.0 544.25,445.6"/>
<polyline fill="none" stroke="#cc0000" stroke-width="1.85" stroke-dasharray="3.3 2.2" points="171.25,493.25 261.5,642.0 335.0,706.75 436.75,761.75 544.25,798.75"/>
<polyline fill="none" stroke="#cc0000" stroke-width="1.8" points="171.25,721.75 261.5,775.0 335.0,777.5 436.75,807.0 544.25,798.75"/>
<polygon points="167.75,718.25 171.25,719.37 174.75,718.25 173.63,721.75 174.75,725.25 171.25,724.13 167.75,725.25 168.87,721.75" fill="#cc0000"/>
<polygon points="258.00,771.50 261.50,772.62 265.00,771.50 263.88,775.00 265.00,778.50 261.50,777.38 258.00,778.50 259.12,775.00" fill="#cc0000"/>
<polygon points="331.50,774.00 335.00,775.12 338.50,774.00 337.38,777.50 338.50,781.00 335.00,779.88 331.50,781.00 332.62,777.50" fill="#cc0000"/>
<polygon points="433.25,803.50 436.75,804.62 440.25,803.50 439.13,807.00 440.25,810.50 436.75,809.38 433.25,810.50 434.37,807.00" fill="#cc0000"/>
<circle cx="171.25" cy="493.25" r="4.5" fill="#cc0000"/>
<circle cx="261.5" cy="642.0" r="4.5" fill="#cc0000"/>
<circle cx="335.0" cy="706.75" r="4.5" fill="#cc0000"/>
<circle cx="436.75" cy="761.75" r="4.5" fill="#cc0000"/>
<circle cx="544.25" cy="798.75" r="4.5" fill="#cc0000"/>
<g font-family="Liberation Sans, sans-serif">
<text x="124.32" y="846.60" font-size="23.3" fill="#cc0000" stroke="#fff" stroke-width="0.22" text-anchor="start" textLength="34.75" lengthAdjust="spacingAndGlyphs" >0.0</text>
<text x="124.36" y="797.48" font-size="23.3" fill="#cc0000" stroke="#fff" stroke-width="0.22" text-anchor="start" textLength="33.56" lengthAdjust="spacingAndGlyphs" >0.5</text>
<text x="125.78" y="748.35" font-size="23.3" fill="#cc0000" stroke="#fff" stroke-width="0.22" text-anchor="start" textLength="33.26" lengthAdjust="spacingAndGlyphs" >1.0</text>
<text x="125.85" y="699.23" font-size="23.3" fill="#cc0000" stroke="#fff" stroke-width="0.22" text-anchor="start" textLength="32.02" lengthAdjust="spacingAndGlyphs" >1.5</text>
<text x="124.76" y="650.10" font-size="23.3" fill="#cc0000" stroke="#fff" stroke-width="0.22" text-anchor="start" textLength="34.31" lengthAdjust="spacingAndGlyphs" >2.0</text>
<text x="124.80" y="600.98" font-size="23.3" fill="#cc0000" stroke="#fff" stroke-width="0.22" text-anchor="start" textLength="33.10" lengthAdjust="spacingAndGlyphs" >2.5</text>
<text x="125.07" y="551.85" font-size="23.3" fill="#cc0000" stroke="#fff" stroke-width="0.22" text-anchor="start" textLength="33.99" lengthAdjust="spacingAndGlyphs" >3.0</text>
<text x="125.10" y="502.73" font-size="23.3" fill="#cc0000" stroke="#fff" stroke-width="0.22" text-anchor="start" textLength="32.79" lengthAdjust="spacingAndGlyphs" >3.5</text>
<text x="75.13" y="457.70" font-size="23.3" fill="#cc0000" stroke="#fff" stroke-width="0.22" text-anchor="start" textLength="74.44" lengthAdjust="spacingAndGlyphs" >4.0x10</text>
<text x="150.29" y="441.60" font-size="16.2" fill="#cc0000" stroke="#fff" stroke-width="0.22" text-anchor="start" textLength="8.45" lengthAdjust="spacingAndGlyphs" >5</text>
<text x="556.09" y="846.95" font-size="23.0" fill="#0033cc" stroke="#fff" stroke-width="0.22" text-anchor="start" textLength="50.11" lengthAdjust="spacingAndGlyphs" >0.00</text>
<text x="556.12" y="794.86" font-size="23.0" fill="#0033cc" stroke="#fff" stroke-width="0.22" text-anchor="start" textLength="49.04" lengthAdjust="spacingAndGlyphs" >0.25</text>
<text x="556.09" y="742.77" font-size="23.0" fill="#0033cc" stroke="#fff" stroke-width="0.22" text-anchor="start" textLength="50.11" lengthAdjust="spacingAndGlyphs" >0.50</text>
<text x="556.12" y="690.67" font-size="23.0" fill="#0033cc" stroke="#fff" stroke-width="0.22" text-anchor="start" textLength="49.04" lengthAdjust="spacingAndGlyphs" >0.75</text>
<text x="557.39" y="638.58" font-size="23.0" fill="#0033cc" stroke="#fff" stroke-width="0.22" text-anchor="start" textLength="48.79" lengthAdjust="spacingAndGlyphs" >1.00</text>
<text x="557.43" y="586.49" font-size="23.0" fill="#0033cc" stroke="#fff" stroke-width="0.22" text-anchor="start" textLength="47.70" lengthAdjust="spacingAndGlyphs" >1.25</text>
<text x="557.39" y="534.39" font-size="23.0" fill="#0033cc" stroke="#fff" stroke-width="0.22" text-anchor="start" textLength="48.79" lengthAdjust="spacingAndGlyphs" >1.50</text>
<text x="557.43" y="482.30" font-size="23.0" fill="#0033cc" stroke="#fff" stroke-width="0.22" text-anchor="start" textLength="47.70" lengthAdjust="spacingAndGlyphs" >1.75</text>
<text x="179.53" y="871.80" font-size="23.3" fill="#000" stroke="#fff" stroke-width="0.22" text-anchor="start" textLength="28.29" lengthAdjust="spacingAndGlyphs" >33</text>
<text x="241.31" y="871.80" font-size="23.3" fill="#000" stroke="#fff" stroke-width="0.22" text-anchor="start" textLength="28.44" lengthAdjust="spacingAndGlyphs" >44</text>
<text x="304.52" y="871.80" font-size="23.3" fill="#000" stroke="#fff" stroke-width="0.22" text-anchor="start" textLength="27.31" lengthAdjust="spacingAndGlyphs" >55</text>
<text x="366.06" y="871.80" font-size="23.3" fill="#000" stroke="#fff" stroke-width="0.22" text-anchor="start" textLength="29.40" lengthAdjust="spacingAndGlyphs" >66</text>
<text x="427.71" y="871.80" font-size="23.3" fill="#000" stroke="#fff" stroke-width="0.22" text-anchor="start" textLength="27.95" lengthAdjust="spacingAndGlyphs" >77</text>
<text x="490.32" y="871.80" font-size="23.3" fill="#000" stroke="#fff" stroke-width="0.22" text-anchor="start" textLength="27.77" lengthAdjust="spacingAndGlyphs" >88</text>
<text x="211.27" y="909.40" font-size="25.8" fill="#000" stroke="#fff" stroke-width="0.22" text-anchor="start" textLength="75.92" lengthAdjust="spacingAndGlyphs" >Impact</text>
<text x="295.97" y="909.40" font-size="25.8" fill="#000" stroke="#fff" stroke-width="0.22" text-anchor="start" textLength="193.59" lengthAdjust="spacingAndGlyphs" >parameter(arsec)</text>
<text transform="translate(63.20,762.71) rotate(-90)" font-size="25.8" fill="#cc0000" stroke="#fff" stroke-width="0.22" textLength="81.88" lengthAdjust="spacingAndGlyphs">Volume</text>
<text transform="translate(63.20,672.57) rotate(-90)" font-size="25.8" fill="#cc0000" stroke="#fff" stroke-width="0.22" textLength="80.82" lengthAdjust="spacingAndGlyphs">density</text>
<text transform="translate(63.20,583.82) rotate(-90)" font-size="25.8" fill="#cc0000" stroke="#fff" stroke-width="0.22" textLength="43.44" lengthAdjust="spacingAndGlyphs">(cm</text>
<text transform="translate(46.00,540.72) rotate(-90)" font-size="17.8" fill="#cc0000" stroke="#fff" stroke-width="0.22" textLength="16.43" lengthAdjust="spacingAndGlyphs">-3</text>
<text transform="translate(63.20,521.55) rotate(-90)" font-size="25.8" fill="#cc0000" stroke="#fff" stroke-width="0.22" textLength="8.29" lengthAdjust="spacingAndGlyphs">)</text>
<text transform="translate(631.30,462.67) rotate(90)" font-size="25.8" fill="#0033cc" stroke="#fff" stroke-width="0.22" textLength="37.21" lengthAdjust="spacingAndGlyphs">DIB</text>
<text transform="translate(631.30,507.87) rotate(90)" font-size="25.8" fill="#0033cc" stroke="#fff" stroke-width="0.22" textLength="23.83" lengthAdjust="spacingAndGlyphs">to</text>
<text transform="translate(631.30,539.06) rotate(90)" font-size="25.8" fill="#0033cc" stroke="#fff" stroke-width="0.22" textLength="67.33" lengthAdjust="spacingAndGlyphs">grains</text>
<text transform="translate(631.30,612.54) rotate(90)" font-size="25.8" fill="#0033cc" stroke="#fff" stroke-width="0.22" textLength="51.68" lengthAdjust="spacingAndGlyphs">ratio</text>
<text transform="translate(631.30,671.79) rotate(90)" font-size="25.8" fill="#0033cc" stroke="#fff" stroke-width="0.22" textLength="53.49" lengthAdjust="spacingAndGlyphs">(arb.</text>
<text transform="translate(631.30,732.96) rotate(90)" font-size="25.8" fill="#0033cc" stroke="#fff" stroke-width="0.22" textLength="52.21" lengthAdjust="spacingAndGlyphs">unit)</text>
<rect x="278.6" y="471.8" width="191.89999999999998" height="58.599999999999966" fill="#fff" stroke="#000" stroke-width="1"/>
<line x1="282.90" y1="482.90" x2="312.90" y2="482.90" stroke="#cc0000" stroke-width="1.85" stroke-dasharray="3.3 2.0"/>
<circle cx="297.9" cy="482.9" r="5.0" fill="#cc0000"/>
<line x1="282.90" y1="501.10" x2="312.90" y2="501.10" stroke="#cc0000" stroke-width="1.8" />
<polygon points="293.90,497.10 297.90,498.38 301.90,497.10 300.62,501.10 301.90,505.10 297.90,503.82 293.90,505.10 295.18,501.10" fill="#cc0000"/>
<line x1="282.90" y1="519.50" x2="312.90" y2="519.50" stroke="#0000cd" stroke-width="1.6" stroke-dasharray="2.6 1.25 1.0 1.25"/>
<text x="319.57" y="488.00" font-size="14.6" fill="#000" stroke="#fff" stroke-width="0.1" text-anchor="start" textLength="10.86" lengthAdjust="spacingAndGlyphs" >H</text>
<text x="334.16" y="488.00" font-size="14.6" fill="#000" stroke="#fff" stroke-width="0.1" text-anchor="start" textLength="40.78" lengthAdjust="spacingAndGlyphs" >atoms</text>
<text x="380.39" y="488.00" font-size="14.6" fill="#000" stroke="#fff" stroke-width="0.1" text-anchor="start" textLength="30.83" lengthAdjust="spacingAndGlyphs" >(axis</text>
<text x="415.93" y="488.00" font-size="14.6" fill="#000" stroke="#fff" stroke-width="0.1" text-anchor="start" textLength="31.99" lengthAdjust="spacingAndGlyphs" >unit)</text>
<text x="319.69" y="506.20" font-size="14.6" fill="#000" stroke="#fff" stroke-width="0.1" text-anchor="start" textLength="22.63" lengthAdjust="spacingAndGlyphs" >DIB</text>
<text x="346.28" y="506.20" font-size="14.6" fill="#000" stroke="#fff" stroke-width="0.1" text-anchor="start" textLength="48.95" lengthAdjust="spacingAndGlyphs" >carriers</text>
<text x="400.75" y="506.20" font-size="14.6" fill="#000" stroke="#fff" stroke-width="0.1" text-anchor="start" textLength="31.66" lengthAdjust="spacingAndGlyphs" >(arb.</text>
<text x="435.92" y="506.20" font-size="14.6" fill="#000" stroke="#fff" stroke-width="0.1" text-anchor="start" textLength="32.31" lengthAdjust="spacingAndGlyphs" >unit)</text>
<text x="319.76" y="524.60" font-size="14.6" fill="#000" stroke="#fff" stroke-width="0.1" text-anchor="start" textLength="80.01" lengthAdjust="spacingAndGlyphs" >n(DIB)/n(H)</text>
<text x="403.53" y="524.60" font-size="14.6" fill="#000" stroke="#fff" stroke-width="0.1" text-anchor="start" textLength="31.35" lengthAdjust="spacingAndGlyphs" >ratio</text>
</g>
</g>
</svg>
</body></html>
